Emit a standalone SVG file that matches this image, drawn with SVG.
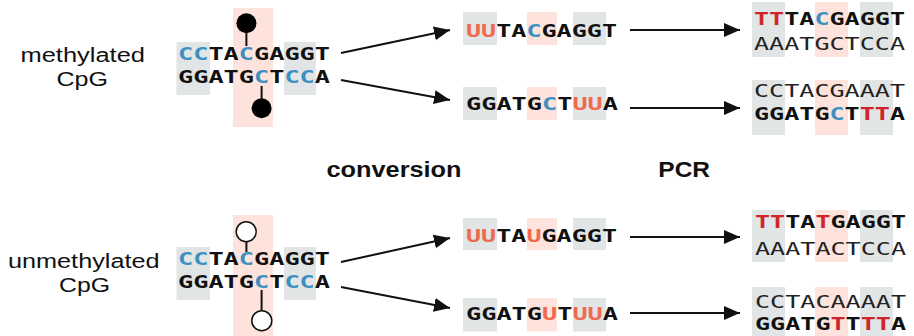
<svg xmlns="http://www.w3.org/2000/svg" width="914" height="336" viewBox="0 0 914 336">
<style>
.lbl{font-family:"Liberation Sans",Arial,sans-serif;font-size:20px;fill:#111}
.hd{font-family:"Liberation Sans",Arial,sans-serif;font-size:22px;font-weight:bold;fill:#111}
.sq{font-family:"DejaVu Sans Mono","Liberation Mono",monospace;font-size:18.5px;font-weight:bold;fill:#111}
.th{font-family:"DejaVu Sans Mono","Liberation Mono",monospace;font-size:18.5px;font-weight:normal;fill:#222}
.bl{fill:#3b8fc2}
.or{fill:#f06a4f}
.rd{fill:#d0262b}
.gr{fill:#e2e5e5}
.pk{fill:#fde3db}
.ln{stroke:#111;stroke-width:2;fill:none}
.cn{stroke:#111;stroke-width:2;fill:none;marker-end:url(#ah)}
</style>
<defs>
<marker id="ah" markerUnits="userSpaceOnUse" markerWidth="18" markerHeight="16" refX="16" refY="7" orient="auto">
<path d="M0,0 L16,7 L0,14 z" fill="#111"/>
</marker>
</defs>
<rect width="914" height="336" fill="#fff"/>

<g id="label-methylated">
<text class="lbl" x="20.5" y="62" textLength="124.5" lengthAdjust="spacingAndGlyphs">methylated</text>
<text class="lbl" x="56.5" y="86" textLength="51.5" lengthAdjust="spacingAndGlyphs">CpG</text>
</g>
<g id="label-unmethylated">
<text class="lbl" x="8" y="268" textLength="151.5" lengthAdjust="spacingAndGlyphs">unmethylated</text>
<text class="lbl" x="59" y="292" textLength="51" lengthAdjust="spacingAndGlyphs">CpG</text>
</g>
<g id="label-conversion"><text class="hd" x="326.5" y="177" textLength="135" lengthAdjust="spacingAndGlyphs">conversion</text></g>
<g id="label-pcr"><text class="hd" x="658.3" y="177" textLength="51.7" lengthAdjust="spacingAndGlyphs">PCR</text></g>

<g id="meth-dna">
<rect class="pk" x="233" y="8" width="40" height="119"/>
<rect class="gr" x="176.5" y="42" width="33.5" height="53"/>
<rect class="gr" x="284" y="42" width="32" height="53"/>
<line class="ln" x1="246.4" y1="30" x2="246.4" y2="46"/>
<line class="ln" x1="261.6" y1="86" x2="261.6" y2="100"/>
<circle cx="246.4" cy="23.3" r="10" fill="#000"/>
<circle cx="261.6" cy="108.3" r="10" fill="#000"/>
<text class="sq" x="178" y="60" textLength="152" lengthAdjust="spacingAndGlyphs"><tspan class="bl">CC</tspan>TA<tspan class="bl">C</tspan>GAGGT</text>
<text class="sq" x="178" y="83.3" textLength="152" lengthAdjust="spacingAndGlyphs">GGATG<tspan class="bl">C</tspan>T<tspan class="bl">CC</tspan>A</text>
</g>

<g id="unmeth-dna">
<rect class="pk" x="233" y="215" width="40" height="121"/>
<rect class="gr" x="176.5" y="247" width="33.5" height="53"/>
<rect class="gr" x="284" y="247" width="32" height="53"/>
<line class="ln" x1="246.4" y1="242" x2="246.4" y2="252"/>
<line class="ln" x1="261.6" y1="290" x2="261.6" y2="310"/>
<circle cx="246.2" cy="231.7" r="10" fill="#fff" stroke="#111" stroke-width="1.5"/>
<circle cx="261.8" cy="320.7" r="10" fill="#fff" stroke="#111" stroke-width="1.5"/>
<text class="sq" x="178" y="265" textLength="152" lengthAdjust="spacingAndGlyphs"><tspan class="bl">CC</tspan>TA<tspan class="bl">C</tspan>GAGGT</text>
<text class="sq" x="178" y="288.3" textLength="152" lengthAdjust="spacingAndGlyphs">GGATG<tspan class="bl">C</tspan>T<tspan class="bl">CC</tspan>A</text>
</g>

<g id="meth-conv-top">
<rect class="gr" x="463" y="12" width="34" height="33"/>
<rect class="pk" x="527" y="12" width="30" height="33"/>
<rect class="gr" x="573" y="12" width="33" height="33"/>
<text class="sq" x="466" y="37" textLength="151" lengthAdjust="spacingAndGlyphs"><tspan class="or">UU</tspan>TA<tspan class="bl">C</tspan>GAGGT</text>
</g>
<g id="meth-conv-bottom">
<rect class="gr" x="463" y="87" width="34" height="33"/>
<rect class="pk" x="527" y="87" width="30" height="33"/>
<rect class="gr" x="573" y="87" width="33" height="33"/>
<text class="sq" x="466" y="110" textLength="152" lengthAdjust="spacingAndGlyphs">GGATG<tspan class="bl">C</tspan>T<tspan class="or">UU</tspan>A</text>
</g>
<g id="unmeth-conv-top">
<rect class="gr" x="463" y="218" width="34" height="32"/>
<rect class="pk" x="527" y="218" width="30" height="32"/>
<rect class="gr" x="573" y="218" width="33" height="32"/>
<text class="sq" x="466" y="242" textLength="151" lengthAdjust="spacingAndGlyphs"><tspan class="or">UU</tspan>TA<tspan class="or">U</tspan>GAGGT</text>
</g>
<g id="unmeth-conv-bottom">
<rect class="gr" x="463" y="298" width="34" height="33.5"/>
<rect class="pk" x="527" y="298" width="30" height="33.5"/>
<rect class="gr" x="573" y="298" width="33" height="33.5"/>
<text class="sq" x="466" y="320" textLength="152" lengthAdjust="spacingAndGlyphs">GGATG<tspan class="or">U</tspan>T<tspan class="or">UU</tspan>A</text>
</g>

<g id="meth-pcr-top">
<rect class="gr" x="752" y="2" width="33" height="55"/>
<rect class="pk" x="815" y="2" width="33" height="55"/>
<rect class="gr" x="860" y="2" width="33" height="55"/>
<text class="sq" x="754" y="25" textLength="151" lengthAdjust="spacingAndGlyphs"><tspan class="rd">TT</tspan>TA<tspan class="bl">C</tspan>GAGGT</text>
<text class="th" x="754" y="50" textLength="151" lengthAdjust="spacingAndGlyphs">AAATGCTCCA</text>
</g>
<g id="meth-pcr-bottom">
<rect class="gr" x="752" y="80" width="33" height="55"/>
<rect class="pk" x="815" y="80" width="33" height="55"/>
<rect class="gr" x="860" y="80" width="33" height="55"/>
<text class="th" x="754" y="97" textLength="151" lengthAdjust="spacingAndGlyphs">CCTACGAAAT</text>
<text class="sq" x="754" y="120" textLength="151" lengthAdjust="spacingAndGlyphs">GGATG<tspan class="bl">C</tspan>T<tspan class="rd">TT</tspan>A</text>
</g>
<g id="unmeth-pcr-top">
<rect class="gr" x="752" y="210" width="33" height="52"/>
<rect class="pk" x="815" y="210" width="33" height="52"/>
<rect class="gr" x="860" y="210" width="33" height="52"/>
<text class="sq" x="755" y="228" textLength="151" lengthAdjust="spacingAndGlyphs"><tspan class="rd">TT</tspan>TA<tspan class="rd">T</tspan>GAGGT</text>
<text class="th" x="755" y="255" textLength="151" lengthAdjust="spacingAndGlyphs">AAATACTCCA</text>
</g>
<g id="unmeth-pcr-bottom">
<rect class="gr" x="752" y="287" width="33" height="49"/>
<rect class="pk" x="815" y="287" width="33" height="49"/>
<rect class="gr" x="860" y="287" width="33" height="49"/>
<text class="th" x="755" y="308" textLength="151" lengthAdjust="spacingAndGlyphs">CCTACAAAAT</text>
<text class="sq" x="755" y="330" textLength="151" lengthAdjust="spacingAndGlyphs">GGATG<tspan class="rd">T</tspan>T<tspan class="rd">TT</tspan>A</text>
</g>

<g id="connectors">
<line class="cn" x1="341" y1="53" x2="450" y2="30"/>
<line class="cn" x1="341" y1="80" x2="450" y2="100"/>
<line class="cn" x1="630" y1="30" x2="740" y2="30"/>
<line class="cn" x1="630" y1="108" x2="740" y2="108"/>
<line class="cn" x1="341" y1="262" x2="450" y2="238"/>
<line class="cn" x1="341" y1="287" x2="450" y2="308"/>
<line class="cn" x1="630" y1="237" x2="740" y2="237"/>
<line class="cn" x1="630" y1="313" x2="740" y2="313"/>
</g>
</svg>
